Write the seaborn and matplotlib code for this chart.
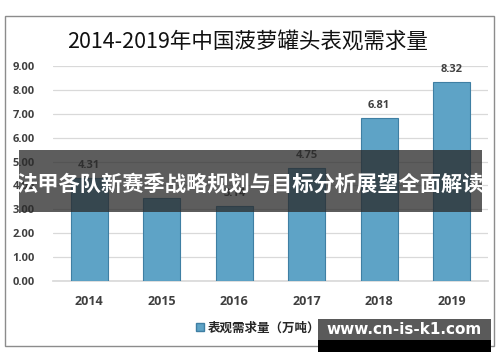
import matplotlib
matplotlib.use("Agg")
import matplotlib.pyplot as plt
from matplotlib.patches import Rectangle, Patch
import seaborn as sns
import pandas as pd

years = ["2014", "2015", "2016", "2017", "2018", "2019"]
demand = [4.31, 3.46, 3.14, 4.75, 6.81, 8.32]
label_text = ["4.31", "", "3.14", "4.75", "6.81", "8.32"]
yticks = [0, 1, 2, 3, 4, 5, 6, 7, 8, 9]
title = "2014-2019年中国菠萝罐头表观需求量"
legend_label = "表观需求量（万吨）"
banner = "法甲各队新赛季战略规划与目标分析展望全面解读"
watermark = "www.cn-is-k1.com"

sns.set_theme(style="white")
plt.rcParams["font.family"] = ["Noto Sans CJK SC", "DejaVu Sans"]

W, H = 500, 362
fig = plt.figure(figsize=(W / 100, H / 100), dpi=100)
fig.patch.set_facecolor("white")

def fx(px):
    return px / W

def fy(py):
    return 1 - py / H

# outer border
fig.add_artist(Rectangle((fx(5), fy(346)), fx(489), (346 - 16) / H, transform=fig.transFigure,
                         fill=False, edgecolor="#8c8c8c", linewidth=1.0))

ax = fig.add_axes([fx(53), fy(281), (488 - 53) / W, (281 - 66) / H])
df = pd.DataFrame({"year": years, "demand": demand})
sns.barplot(data=df, x="year", y="demand", ax=ax, color="#5ea3c6", width=0.51,
            edgecolor="#3f7fa3", linewidth=0.8, saturation=1, zorder=3)
ax.set_ylim(0, 9)
ax.set_yticks(yticks)
ax.set_yticklabels([f"{v:.2f}" for v in yticks])
ax.set_xlabel("")
ax.set_ylabel("")
ax.yaxis.grid(True, color="#d9d9d9", linewidth=0.9, zorder=0)
ax.set_axisbelow(True)
for s in ["top", "right", "left"]:
    ax.spines[s].set_visible(False)
ax.spines["bottom"].set_color("#d9d9d9")
ax.tick_params(axis="y", length=0, pad=13, labelsize=8, labelcolor="#404040")
ax.tick_params(axis="x", length=0, pad=10, labelsize=9, labelcolor="#404040")
for t in ax.get_yticklabels() + ax.get_xticklabels():
    t.set_fontweight("bold")
    t.set_family(["Open Sans", "DejaVu Sans"])

for i, (v, lab) in enumerate(zip(demand, label_text)):
    if lab:
        ax.annotate(lab, (i, v), xytext=(0, 5), textcoords="offset points",
                    ha="center", va="bottom", fontsize=8, fontweight="bold",
                    color="#404040", family=["Open Sans", "DejaVu Sans"])

fig.text(fx(248), fy(42), title, ha="center", va="center", fontsize=15.5,
         color="#111111", fontweight="medium", family=["Noto Sans CJK SC", "DejaVu Sans"])

fig.legend(handles=[Patch(facecolor="#5ea3c6", edgecolor="#3f7fa3", label=legend_label)],
           loc="center", bbox_to_anchor=(fx(258), fy(328)), frameon=False,
           handlelength=0.6, handleheight=0.6, handletextpad=0.3,
           prop={"family": ["Noto Sans CJK SC"], "weight": "bold", "size": 9})

# banner overlay
fig.add_artist(Rectangle((fx(19), fy(212)), (482 - 19) / W, (212 - 150) / H,
                         transform=fig.transFigure, facecolor="#2a2a2a", alpha=0.76,
                         edgecolor="none", zorder=10))
fig.text(fx(250), fy(184), banner, ha="center", va="center", fontsize=15.3,
         color="white", fontweight="bold", zorder=11,
         family=["Noto Sans CJK SC", "DejaVu Sans"])

# watermark
fig.add_artist(Rectangle((fx(318), fy(352)), (491 - 318) / W, (352 - 340) / H,
                         transform=fig.transFigure, facecolor="black", edgecolor="none", zorder=10))
fig.add_artist(Rectangle((fx(318), fy(340)), (491 - 318) / W, (340 - 319) / H,
                         transform=fig.transFigure, facecolor="#5a5a5a", edgecolor="none", zorder=10))
fig.text(fx(404), fy(330), watermark, ha="center", va="center", fontsize=11,
         color="white", fontweight="bold", zorder=11, family=["DejaVu Sans"])

fig.savefig("out.png", dpi=100)
